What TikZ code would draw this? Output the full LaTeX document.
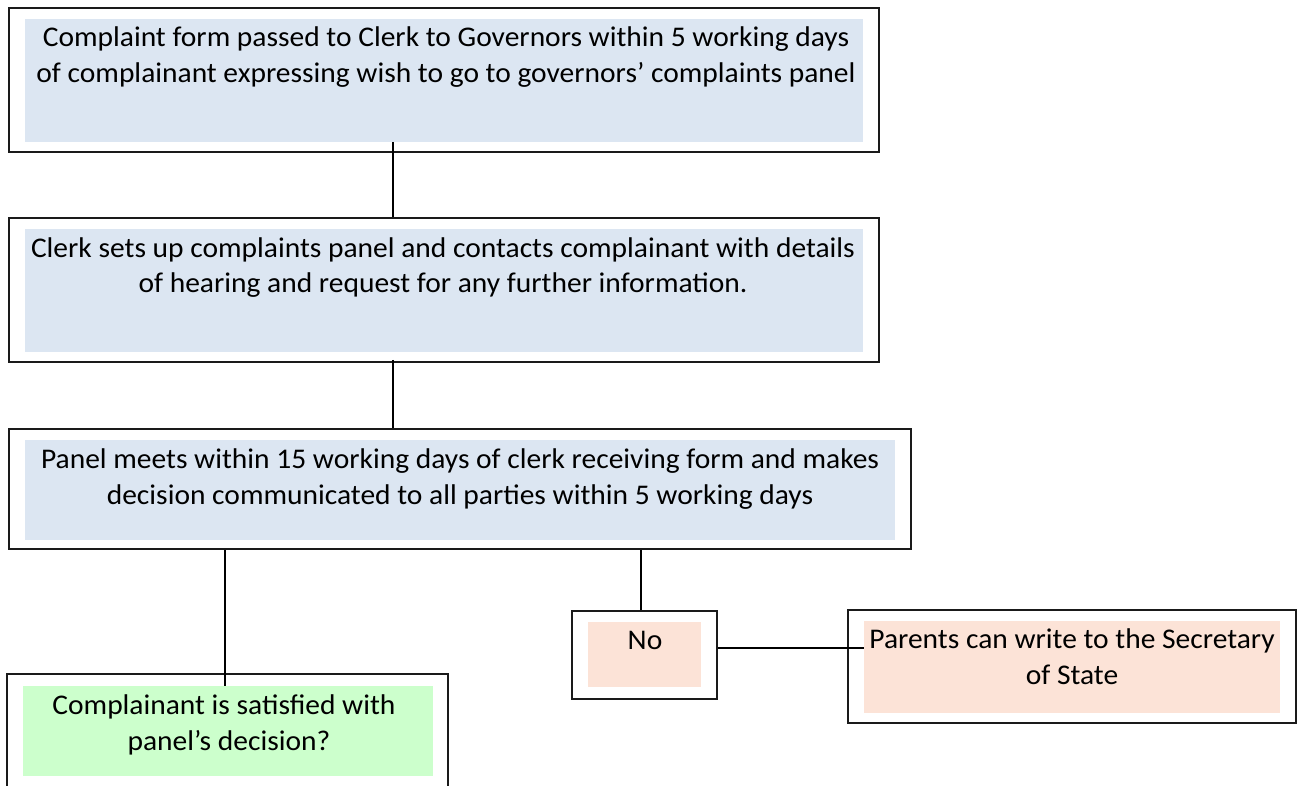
\documentclass[tikz,border=0pt]{standalone}
\usepackage{fontspec}
\setmainfont{Carlito}[FakeStretch=1.035]
\definecolor{stepblue}{HTML}{DCE6F2}
\definecolor{stepgreen}{HTML}{CCFFCC}
\definecolor{steppeach}{HTML}{FCE3D7}
\definecolor{edgegray}{HTML}{1A1A1A}
\tikzset{
  outerbox/.style={draw=edgegray, line width=1.6pt, fill=white, inner sep=0pt, rectangle},
  fillbox/.style={draw=none, inner sep=0pt, rectangle},
  txt/.style={anchor=base, inner sep=0pt, font=\fontsize{28.5}{34}\selectfont, text=black},
  link/.style={draw=black, line width=1.5pt},
}
\begin{document}
\begin{tikzpicture}[x=1pt,y=-1pt]
\useasboundingbox (0,0) rectangle (1303,785);
\clip (0,0) rectangle (1303,785);
% Box 1
\node[outerbox, minimum width=870, minimum height=144] (b1) at (444,80) {};
\node[fillbox, fill=stepblue, minimum width=838, minimum height=123] (f1) at (444,80.5) {};
\node[txt] (t1a) at (446,46.5) {Complaint form passed to Clerk to Governors within 5 working days};
\node[txt] (t1b) at (446,82) {of complainant expressing wish to go to governors’ complaints panel};
% Box 2
\node[outerbox, minimum width=870, minimum height=144] (b2) at (444,290) {};
\node[fillbox, fill=stepblue, minimum width=838, minimum height=123] (f2) at (444,290.5) {};
\node[txt] (t2a) at (443,257) {Clerk sets up complaints panel and contacts complainant with details};
\node[txt] (t2b) at (443,292.5) {of hearing and request for any further information.};
% Box 3
\node[outerbox, minimum width=902, minimum height=120] (b3) at (460,489) {};
\node[fillbox, fill=stepblue, minimum width=870, minimum height=100] (f3) at (460,490) {};
\node[txt] (t3a) at (460,468) {Panel meets within 15 working days of clerk receiving form and makes};
\node[txt] (t3b) at (460,504.5) {decision communicated to all parties within 5 working days};
% Green box
\node[outerbox, minimum width=441, minimum height=140] (b4) at (227.5,744) {};
\node[fillbox, fill=stepgreen, minimum width=410, minimum height=90] (f4) at (228,731) {};
\node[txt] (t4a) at (224,714) {Complainant is satisfied with};
\node[txt] (t4b) at (229,750) {panel’s decision?};
% No box
\node[outerbox, minimum width=145, minimum height=88] (b5) at (644.5,655) {};
\node[fillbox, fill=steppeach, minimum width=113, minimum height=65] (f5) at (644.5,654.5) {};
\node[txt] (t5) at (645,649) {No};
% Right box
\node[outerbox, minimum width=448, minimum height=113] (b6) at (1072,666.5) {};
\node[fillbox, fill=steppeach, minimum width=416, minimum height=92] (f6) at (1072,667) {};
\node[txt] (t6a) at (1072,648) {Parents can write to the Secretary};
\node[txt] (t6b) at (1072,684) {of State};
% Connectors
\draw[link] (f1.south -| 393,0) -- (b2.north -| 393,0);
\draw[link] (b2.south -| 393,0) ++(0,-3) -- (b3.north -| 393,0);
\draw[link] (b3.south -| 225,0) -- (f4.north -| 225,0);
\draw[link] (b3.south -| 641,0) -- (b5.north -| 641,0);
\draw[link] (b5.east |- 0,648) -- (f6.west |- 0,648);
\end{tikzpicture}
\end{document}
